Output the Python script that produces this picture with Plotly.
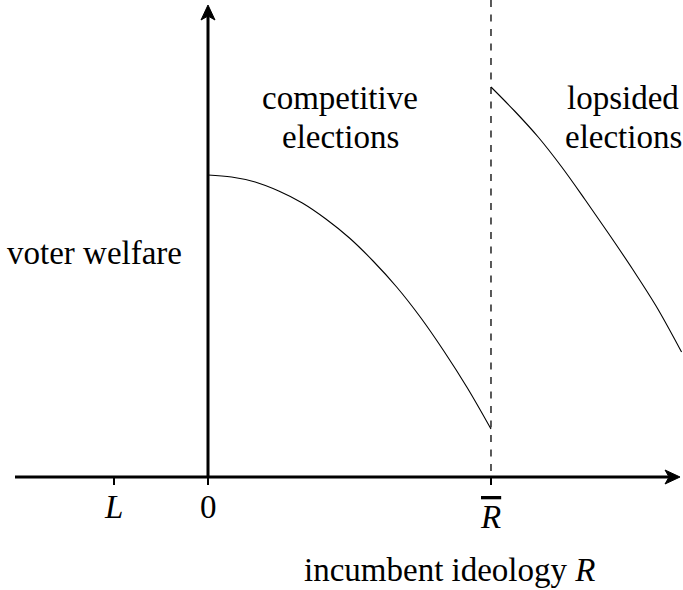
import plotly.graph_objects as go

# ---- data (abstract units: R-bar = 3, L = -1) ----
tick_vals = [-1, 0, 3]
tick_text = ["<i>L</i>", "0", "<i><span style='text-decoration:overline'>R</span></i>"]
tick_label_shift = [-30, -30, -40]
R_BAR = 3

comp_x = [0, 0.25, 0.5, 0.75, 1.0, 1.25, 1.5, 1.75, 2.0, 2.25, 2.5, 2.75, 3.0]
comp_y = [3.02, 3.00, 2.95, 2.86, 2.74, 2.58, 2.39, 2.16, 1.90, 1.60, 1.26, 0.89, 0.48]

lops_x = [3.0, 3.25, 3.5, 3.75, 4.0, 4.25, 4.5, 4.75, 5.02]
lops_y = [3.90, 3.66, 3.40, 3.10, 2.77, 2.43, 2.08, 1.71, 1.25]

W, H = 683, 590
X_RANGE = [-2.205, 5.0355]
Y_RANGE = [-1.13, 4.77]
X_AXIS_START, X_AXIS_TIP = -2.046, 5.004
Y_AXIS_TIP = 4.72

FONT = "Liberation Serif"
FS = 33

def px(xp):
    return xp / W
def py(yp):
    return 1 - yp / H

fig = go.Figure()
fig.add_trace(go.Scatter(x=comp_x, y=comp_y, mode="lines", line=dict(color="black", width=1.1, shape="spline"), hoverinfo="skip"))
fig.add_trace(go.Scatter(x=lops_x, y=lops_y, mode="lines", line=dict(color="black", width=1.1, shape="spline"), hoverinfo="skip"))

shapes = [
    # dashed threshold line
    dict(type="line", x0=R_BAR, x1=R_BAR, y0=Y_RANGE[1], y1=0, xref="x", yref="y",
         line=dict(color="black", width=1.3, dash="7px,7.5px")),
    # x axis line
    dict(type="line", x0=X_AXIS_START, x1=X_AXIS_TIP - 0.1, y0=0, y1=0, xref="x", yref="y",
         line=dict(color="black", width=3)),
    # y axis line
    dict(type="line", x0=0, x1=0, y0=0, y1=Y_AXIS_TIP - 0.1, xref="x", yref="y",
         line=dict(color="black", width=3)),
    # arrow heads
    dict(type="path", xref="x", yref="y", xsizemode="pixel", ysizemode="pixel",
         xanchor=X_AXIS_TIP, yanchor=0,
         path="M 0,0 L -15,7 L -11,0 L -15,-7 Z", fillcolor="black", line=dict(color="black", width=1)),
    dict(type="path", xref="x", yref="y", xsizemode="pixel", ysizemode="pixel",
         xanchor=0, yanchor=Y_AXIS_TIP,
         path="M 0,0 L -7,-15 L 0,-11 L 7,-15 Z", fillcolor="black", line=dict(color="black", width=1)),
]

font = dict(family=FONT, size=FS, color="black")
def label(text, xp, yp):
    return dict(text=text, x=px(xp), y=py(yp), xref="paper", yref="paper",
                showarrow=False, font=font, xanchor="center", yanchor="middle")

annotations = [
    label("competitive", 340, 98),
    label("elections", 340, 137),
    label("lopsided", 623, 98),
    label("elections", 623, 137),
    label("voter welfare", 94, 253),
    label("incumbent ideology <i>R</i>", 449, 570),
]
for v, t, s in zip(tick_vals, tick_text, tick_label_shift):
    annotations.append(dict(text=t, x=v, y=0, xref="x", yref="y", yshift=s,
                            showarrow=False, font=font, xanchor="center", yanchor="middle"))

fig.update_layout(
    width=W, height=H, margin=dict(l=0, r=0, t=0, b=0),
    paper_bgcolor="white", plot_bgcolor="white", showlegend=False,
    shapes=shapes, annotations=annotations,
    xaxis=dict(range=X_RANGE, showgrid=False, zeroline=False, showline=False,
               anchor="free", position=(H - 477) / H,
               tickmode="array", tickvals=tick_vals, showticklabels=False,
               ticks="outside", ticklen=7, tickwidth=1.5, tickcolor="black"),
    yaxis=dict(range=Y_RANGE, showgrid=False, zeroline=False, showline=False,
               showticklabels=False, ticks=""),
)

fig.write_html("out.html", config={"displayModeBar": False},
               post_script="document.body.style.margin='0';document.body.style.overflow='hidden';")
